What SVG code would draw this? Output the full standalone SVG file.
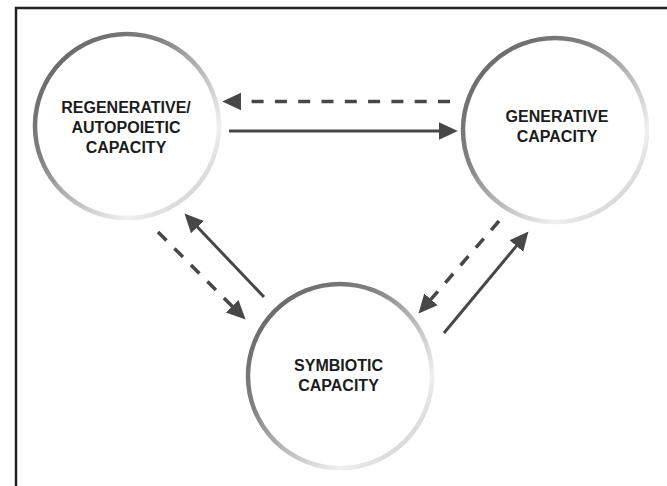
<svg xmlns="http://www.w3.org/2000/svg" width="667" height="486" viewBox="0 0 667 486">
  <defs>
    <linearGradient id="ring" x1="0" y1="0" x2="1" y2="1">
      <stop offset="0" stop-color="#606060"/>
      <stop offset="0.35" stop-color="#808080"/>
      <stop offset="0.6" stop-color="#c8c8c8"/>
      <stop offset="0.75" stop-color="#f0f0f0"/>
      <stop offset="1" stop-color="#bcbcbc"/>
    </linearGradient>
    <marker id="ah" markerUnits="userSpaceOnUse" markerWidth="20" markerHeight="20" viewBox="0 -9 18 18" refX="1" refY="0" orient="auto">
      <path d="M0,-8 L17,0 L0,8 z" fill="#474747"/>
    </marker>
    <style>
      .node circle { fill: #fff; stroke: url(#ring); stroke-width: 4.5; }
      .node text { font-family: "Liberation Sans", Arial, sans-serif; font-weight: bold; font-size: 16px; fill: #1c1c1c; text-anchor: middle; }
      .conn line { stroke: #474747; stroke-width: 3; marker-end: url(#ah); }
      .conn .dash { stroke-dasharray: 12 11.3; stroke-width: 3.5; }
    </style>
  </defs>
  <rect x="16" y="8" width="700" height="500" fill="#fff" stroke="#222" stroke-width="2.5"/>

  <g id="connectors" class="conn">
    <line class="dash" x1="450" y1="101.5" x2="240" y2="101.5"/>
    <line x1="229" y1="131" x2="440" y2="131"/>
    <line x1="264" y1="297" x2="196.7" y2="226.3"/>
    <line class="dash" x1="158" y1="232" x2="233" y2="307"/>
    <line class="dash" x1="499" y1="221" x2="430.2" y2="300.2"/>
    <line x1="444" y1="333" x2="517.1" y2="245.1"/>
  </g>

  <g id="regenerative" class="node">
    <circle cx="127" cy="126" r="92"/>
    <text x="126" y="113">REGENERATIVE/</text>
    <text x="126" y="133">AUTOPOIETIC</text>
    <text x="126" y="153">CAPACITY</text>
  </g>
  <g id="generative" class="node">
    <circle cx="555" cy="130" r="92"/>
    <text x="557" y="122">GENERATIVE</text>
    <text x="557" y="142">CAPACITY</text>
  </g>
  <g id="symbiotic" class="node">
    <circle cx="340" cy="376" r="92"/>
    <text x="338.5" y="371">SYMBIOTIC</text>
    <text x="338.5" y="391">CAPACITY</text>
  </g>
</svg>
